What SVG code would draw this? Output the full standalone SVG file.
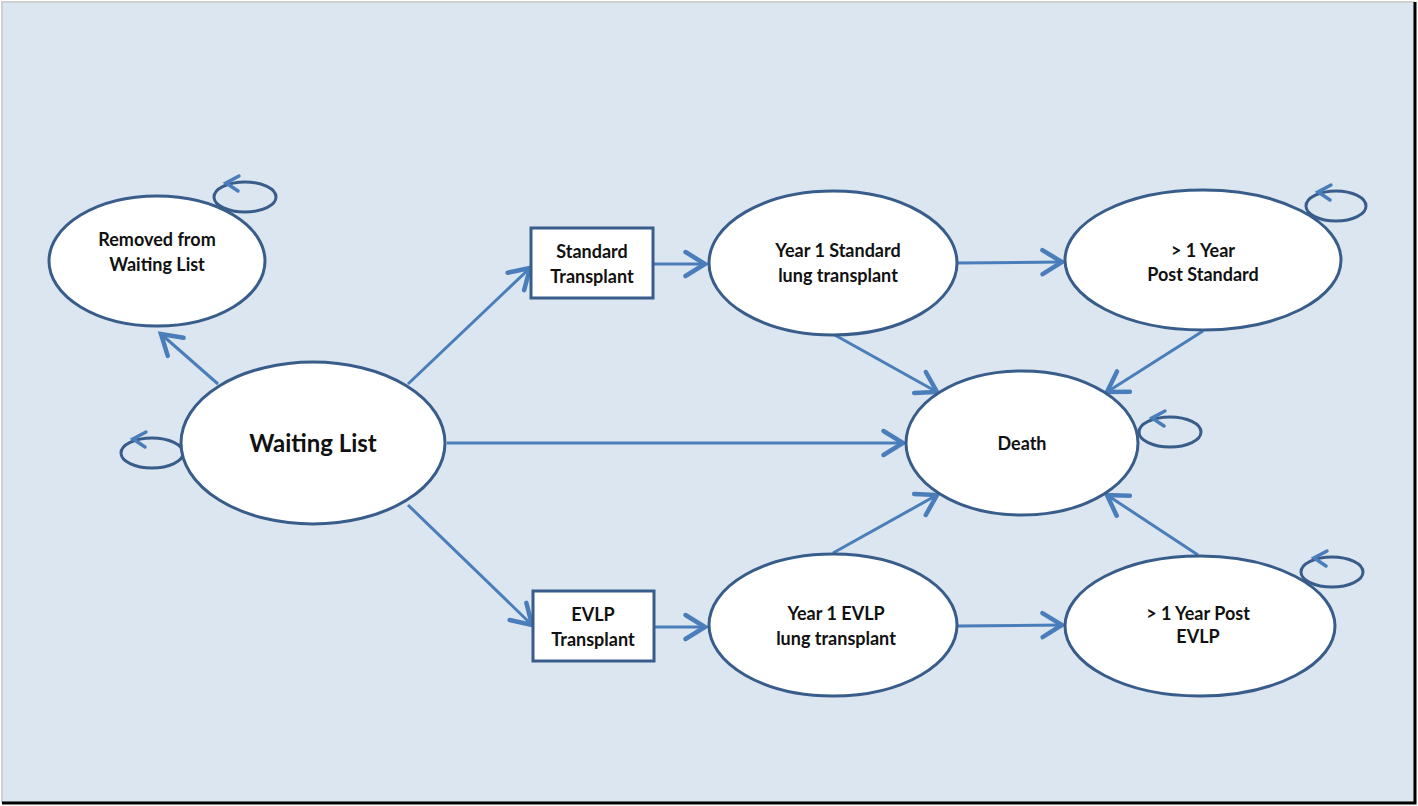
<svg xmlns="http://www.w3.org/2000/svg" width="1418" height="806" viewBox="0 0 1418 806">
<style>
.node{fill:#ffffff;stroke:#385d8a;stroke-width:3}
.loop{fill:none;stroke:#385d8a;stroke-width:3}
.edge{fill:none;stroke:#4a7ebb;stroke-width:3}
.head{fill:none;stroke:#4a7ebb;stroke-width:3.5;stroke-linecap:round;stroke-linejoin:miter}
text{font-family:Lato,"Open Sans","Liberation Sans",sans-serif;font-weight:bold;fill:#111111;text-anchor:middle;font-size:18px}
</style>
<defs>
<marker id="arr" markerUnits="userSpaceOnUse" markerWidth="30" markerHeight="30" refX="0" refY="0" viewBox="-16 -10 20 20" orient="auto" overflow="visible">
<path d="M-13,-8 L0,0 L-13,8" fill="none" stroke="#4a7ebb" stroke-width="3" stroke-linecap="round"/>
</marker>
</defs>
<rect x="0" y="0" width="1418" height="806" fill="#ffffff"/>
<rect x="2" y="2" width="1412" height="800" fill="#dce6f1" stroke="#d0d0d0" stroke-width="2"/>
<path d="M1415,2 L1415,803 L2,803" fill="none" stroke="#000000" stroke-width="3"/>

<g id="edges">
<line class="edge" x1="218" y1="384" x2="161" y2="334" marker-end="url(#arr)"/>
<line class="edge" x1="408" y1="384" x2="530" y2="268" marker-end="url(#arr)"/>
<line class="edge" x1="408" y1="505" x2="532" y2="625" marker-end="url(#arr)"/>
<line class="edge" x1="447" y1="443" x2="903" y2="443" marker-end="url(#arr)"/>
<line class="edge" x1="653" y1="264" x2="705" y2="264" marker-end="url(#arr)"/>
<line class="edge" x1="654" y1="627" x2="705" y2="627" marker-end="url(#arr)"/>
<line class="edge" x1="958" y1="263" x2="1062" y2="262" marker-end="url(#arr)"/>
<line class="edge" x1="958" y1="626" x2="1062" y2="625" marker-end="url(#arr)"/>
<line class="edge" x1="833" y1="334" x2="937" y2="392" marker-end="url(#arr)"/>
<line class="edge" x1="1203" y1="331" x2="1107" y2="392" marker-end="url(#arr)"/>
<line class="edge" x1="833" y1="553" x2="937" y2="495" marker-end="url(#arr)"/>
<line class="edge" x1="1198" y1="555" x2="1107" y2="495" marker-end="url(#arr)"/>
</g>

<g id="removed">
<ellipse class="loop" cx="245" cy="197" rx="31" ry="15"/>
<path class="head" d="M239,176 L226,183 L238,191"/>
<ellipse class="node" cx="157" cy="261" rx="108" ry="65"/>
<text x="157" y="246">Removed from</text>
<text x="157" y="271">Waiting List</text>
</g>

<g id="waiting">
<ellipse class="loop" cx="152" cy="453" rx="31" ry="15"/>
<path class="head" d="M146,432 L133,439 L145,447"/>
<ellipse class="node" cx="313" cy="443" rx="132" ry="81"/>
<text x="313" y="452" style="font-size:24px">Waiting List</text>
</g>

<g id="stdtx">
<rect class="node" x="531" y="228" width="122" height="70"/>
<text x="592" y="258">Standard</text>
<text x="592" y="283">Transplant</text>
</g>

<g id="evlptx">
<rect class="node" x="533" y="591" width="121" height="70"/>
<text x="593" y="621">EVLP</text>
<text x="593" y="646">Transplant</text>
</g>

<g id="y1std">
<ellipse class="node" cx="833" cy="263" rx="124" ry="72"/>
<text x="838" y="257">Year 1 Standard</text>
<text x="838" y="282">lung transplant</text>
</g>

<g id="poststd">
<ellipse class="loop" cx="1336" cy="206" rx="30" ry="15"/>
<path class="head" d="M1331,185 L1318,192 L1330,200"/>
<ellipse class="node" cx="1203" cy="260" rx="138" ry="70"/>
<text x="1203" y="257">&gt; 1 Year</text>
<text x="1203" y="281">Post Standard</text>
</g>

<g id="death">
<ellipse class="loop" cx="1170" cy="432" rx="31" ry="15"/>
<path class="head" d="M1165,411 L1152,418 L1164,426"/>
<ellipse class="node" cx="1022" cy="443" rx="116" ry="72"/>
<text x="1022" y="450">Death</text>
</g>

<g id="y1evlp">
<ellipse class="node" cx="833" cy="625" rx="124" ry="71"/>
<text x="836" y="620">Year 1 EVLP</text>
<text x="836" y="645">lung transplant</text>
</g>

<g id="postevlp">
<ellipse class="loop" cx="1332" cy="572" rx="31" ry="15"/>
<path class="head" d="M1327,551 L1314,558 L1326,566"/>
<ellipse class="node" cx="1200" cy="626" rx="135" ry="70"/>
<text x="1198" y="620">&gt; 1 Year Post</text>
<text x="1198" y="643">EVLP</text>
</g>
</svg>
